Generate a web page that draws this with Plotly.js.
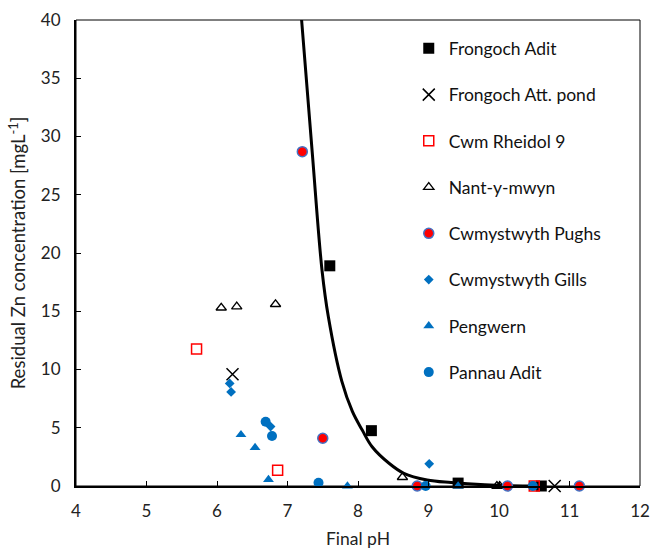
<!DOCTYPE html>
<html><head><meta charset="utf-8">
<script src="https://cdn.plot.ly/plotly-3.0.1.min.js"></script>
<style>html,body{margin:0;padding:0;background:#fff}#chart{width:654px;height:549px}</style>
</head><body><div id="chart"></div>
<script>
// Series data
const frongochAditX = [7.60, 8.19, 9.42, 10.60];
const frongochAditY = [18.9, 4.75, 0.25, 0.0];
const frongochPondX = [6.22, 10.79];
const frongochPondY = [9.6, 0.0];
const cwmRheidolX = [5.71, 6.86, 10.50];
const cwmRheidolY = [11.75, 1.35, 0.0];
const nantX = [6.06, 6.28, 6.83, 8.63, 9.97, 10.01];
const nantY = [15.3, 15.4, 15.6, 0.75, 0.0, 0.0];
const pughsX = [7.21, 7.50, 8.84, 10.12, 11.14];
const pughsY = [28.7, 4.1, 0.0, 0.0, 0.0];
const gillsX = [6.18, 6.20, 6.76, 9.01];
const gillsY = [8.8, 8.07, 5.1, 1.9];
const pengwernX = [6.34, 6.54, 6.73, 7.85, 9.42];
const pengwernY = [4.4, 3.3, 0.55, 0.0, 0.0];
const pannauX = [6.69, 6.78, 7.44, 8.96, 10.48];
const pannauY = [5.52, 4.29, 0.28, 0.0, 0.0];
// Trend curve, points
const curveX = [7.20, 7.35, 7.49, 7.58, 7.77, 7.92, 8.06, 8.20, 8.44, 8.65, 8.98, 9.32, 9.80, 10.16, 10.60];
const curveY = [40.0, 28.7, 18.5, 14.5, 9.0, 6.4, 4.8, 3.37, 1.95, 1.09, 0.52, 0.3, 0.1, 0.03, 0.01];
const xTicks = [4, 5, 6, 7, 8, 9, 10, 11, 12];
const yTicks = [0, 5, 10, 15, 20, 25, 30, 35, 40];

const BLUE = '#0070C0', RED = '#FF0000';
const FONT = 'Lato, "Open Sans", sans-serif';
let g = 0;
function sc(name, x, y, marker) {
  g++;
  return {type: 'scatter', mode: 'markers', name, x, y, marker, legendgroup: 'g' + g, cliponaxis: false};
}
const traces = [
  {type: 'scatter', mode: 'lines', x: curveX, y: curveY, line: {color: '#000', width: 3, shape: 'spline', smoothing: 1}, showlegend: false, hoverinfo: 'skip'},
  sc('Frongoch Adit', frongochAditX, frongochAditY, {symbol: 'square', size: 11, color: '#000'}),
  sc('Frongoch Att. pond', frongochPondX, frongochPondY, {symbol: 'x-thin-open', size: 12, color: '#000', line: {color: '#000', width: 1.5}}),
  sc('Cwm Rheidol 9', cwmRheidolX, cwmRheidolY, {symbol: 'square-open', size: 10, color: RED, line: {color: RED, width: 1.5}}),
  sc('Nant-y-mwyn', nantX, nantY, {symbol: 'triangle-up-open', size: 9, color: '#000', line: {color: '#000', width: 1.3}}),
  sc('Cwmystwyth Pughs', pughsX, pughsY, {symbol: 'circle', size: 10, color: RED, line: {color: '#4472C4', width: 1.5}}),
  sc('Cwmystwyth Gills', gillsX, gillsY, {symbol: 'diamond', size: 7.5, color: BLUE}),
  sc('Pengwern', pengwernX, pengwernY, {symbol: 'triangle-up', size: 9.5, color: BLUE}),
  sc('Pannau Adit', pannauX, pannauY, {symbol: 'circle', size: 10, color: BLUE})
];
const layout = {
  width: 654, height: 549,
  margin: {l: 76, r: 14, t: 20, b: 63},
  paper_bgcolor: '#fff', plot_bgcolor: '#fff',
  font: {family: FONT, size: 17, color: '#222'},
  showlegend: true,
  legend: {x: 0.59, y: 0.9775, xanchor: 'left', yanchor: 'top', bgcolor: 'rgba(0,0,0,0)',
    font: {family: FONT, size: 17.5, color: '#111'}, tracegroupgap: 20.5, itemsizing: 'trace'},
  xaxis: {range: [4, 12], tickvals: xTicks, ticktext: xTicks.map(String), ticks: 'inside', ticklen: 5, tickcolor: '#000',
    showgrid: false, zeroline: false, showline: true, linecolor: '#000', linewidth: 2,
    tickfont: {family: FONT, size: 17, color: '#222'}, ticklabelstandoff: 9,
    title: {text: 'Final pH', font: {family: FONT, size: 17.5, color: '#222'}, standoff: 15}, automargin: false},
  yaxis: {range: [0, 40], tickvals: yTicks, ticktext: yTicks.map(String), ticks: 'inside', ticklen: 5, tickcolor: '#000',
    showgrid: false, zeroline: false, showline: true, linecolor: '#000', linewidth: 2,
    tickfont: {family: FONT, size: 17, color: '#222'}, ticklabelstandoff: 10,
    title: {text: 'Residual Zn concentration [mgL<sup>-1</sup>]', font: {family: FONT, size: 18.5, color: '#222'}, standoff: 10}, automargin: false},
  shapes: [{type: 'rect', xref: 'paper', yref: 'paper', x0: 0, x1: 1, y0: 0, y1: 1, line: {color: '#000', width: 1}, layer: 'below'}]
};
Plotly.newPlot('chart', traces, layout, {displayModeBar: false, staticPlot: true});
</script></body></html>
